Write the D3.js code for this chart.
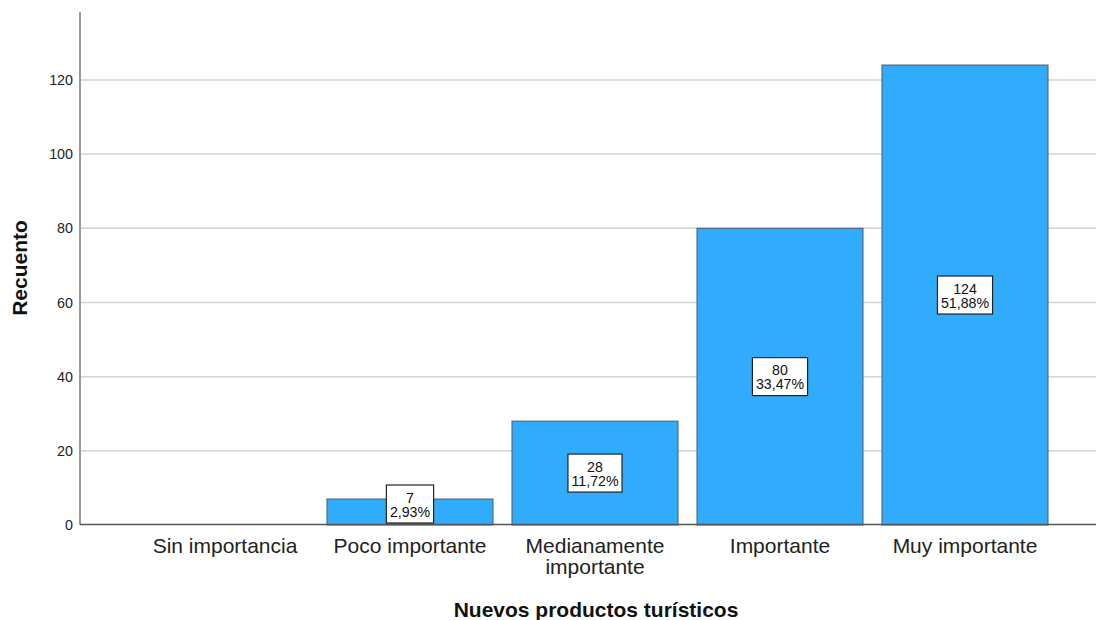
<!DOCTYPE html>
<html><head><meta charset="utf-8">
<script src="https://cdn.jsdelivr.net/npm/d3@7"></script>
<style>body{margin:0;background:#fff}svg{display:block;font-family:"Liberation Sans",Arial,sans-serif}</style>
</head><body><svg id="c" width="1096" height="620"></svg>
<script>
const categories = ["Sin importancia","Poco importante","Medianamente importante","Importante","Muy importante"];
const categoryLines = [["Sin importancia"],["Poco importante"],["Medianamente","importante"],["Importante"],["Muy importante"]];
const counts = [0, 7, 28, 80, 124];
const percents = ["", "2,93%", "11,72%", "33,47%", "51,88%"];
const yTicks = [0, 20, 40, 60, 80, 100, 120];
const xTitle = "Nuevos productos turísticos";
const yTitle = "Recuento";

const svg = d3.select("#c");
const y = d3.scaleLinear().domain([0, 138.3]).range([525, 12]);
const x = d3.scaleBand().domain(categories).range([132.5, 1057.5]).paddingInner(0.1027).paddingOuter(0.05135);

// gridlines
svg.append("g").selectAll("line").data(yTicks.filter(d => d > 0)).join("line")
  .attr("x1", 81).attr("x2", 1096).attr("y1", d => y(d)).attr("y2", d => y(d))
  .attr("stroke", "#d4d4d4").attr("stroke-width", 1.5);

// y tick labels
svg.append("g").selectAll("text").data(yTicks).join("text")
  .attr("x", 73).attr("y", d => y(d)).attr("dy", "0.36em").attr("text-anchor", "end")
  .attr("font-size", 14.3).attr("fill", "#222").text(d => d);

// bars
const data = categories.map((c, i) => ({c, v: counts[i], p: percents[i]}));
svg.append("g").selectAll("rect").data(data.filter(d => d.v > 0)).join("rect")
  .attr("x", d => x(d.c)).attr("y", d => y(d.v)).attr("width", x.bandwidth()).attr("height", d => y(0) - y(d.v))
  .attr("fill", "#31acfd").attr("stroke", "#4a5a68").attr("stroke-width", 1);

// axes lines
svg.append("line").attr("x1", 80).attr("x2", 80).attr("y1", 12).attr("y2", 525).attr("stroke", "#9a9a9a").attr("stroke-width", 2);
svg.append("line").attr("x1", 80).attr("x2", 1096).attr("y1", 524.5).attr("y2", 524.5).attr("stroke", "#555").attr("stroke-width", 1.5);

// labels boxes
const lab = svg.append("g").selectAll("g").data(data.filter(d => d.v > 0)).join("g")
  .attr("transform", d => {
    const cx = x(d.c) + x.bandwidth() / 2;
    let cy = (y(d.v) + y(0)) / 2;
    cy = Math.min(cy, 525 - 21);
    return `translate(${cx},${cy})`;
  });
lab.each(function(d) {
  const g = d3.select(this);
  const t1 = g.append("text").attr("y", -1.5).attr("text-anchor", "middle").attr("font-size", 14.2).attr("fill", "#111").text(d.v);
  const t2 = g.append("text").attr("y", 12.5).attr("text-anchor", "middle").attr("font-size", 14.2).attr("fill", "#111").text(d.p);
  const w = Math.max(t1.node().getComputedTextLength(), t2.node().getComputedTextLength()) + 7;
  g.insert("rect", "text").attr("x", -w / 2).attr("y", -19).attr("width", w).attr("height", 38)
    .attr("fill", "#fff").attr("stroke", "#222").attr("stroke-width", 1.2);
});

// category labels
const cl = svg.append("g").selectAll("text").data(categories).join("text")
  .attr("x", d => x(d) + x.bandwidth() / 2).attr("y", 553).attr("text-anchor", "middle")
  .attr("font-size", 21).attr("fill", "#222");
cl.each(function(d, i) {
  const lines = categoryLines[i];
  d3.select(this).selectAll("tspan").data(lines).join("tspan")
    .attr("x", x(d) + x.bandwidth() / 2).attr("dy", (l, j) => j === 0 ? 0 : 21).text(l => l);
});

// titles
svg.append("text").attr("x", 596).attr("y", 617).attr("text-anchor", "middle")
  .attr("font-size", 21).attr("font-weight", "bold").attr("fill", "#111").text(xTitle);
svg.append("text").attr("transform", "translate(27,268) rotate(-90)").attr("text-anchor", "middle")
  .attr("font-size", 21).attr("font-weight", "bold").attr("fill", "#111").text(yTitle);
</script></body></html>
